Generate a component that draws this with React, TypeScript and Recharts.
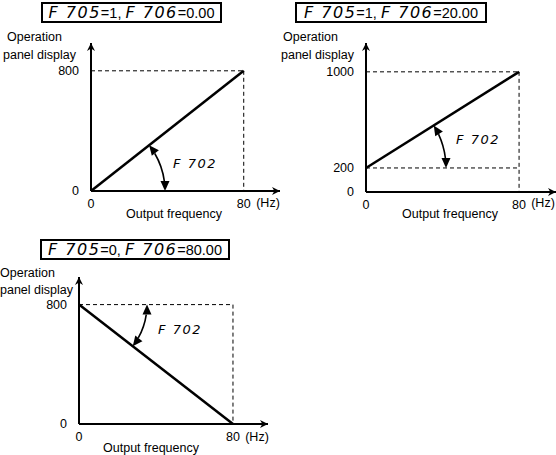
import React from 'react';
import { LineChart, Line, XAxis, YAxis, ReferenceLine, ReferenceDot } from 'recharts';

// Output frequency (Hz) at the two ends of each characteristic line
const freqHz = [0, 80];
const freqTicks = [0, 80];

// Operation panel display values at those frequencies
const displayA = [0, 800];
const displayB = [200, 1000];
const displayC = [800, 0];

const displayTicksA = [0, 800];
const displayTicksB = [0, 200, 1000];
const displayTicksC = [0, 800];

// Panel titles: [param, value, param, value]
const titleA = ['F 705', '=1,\u00a0', 'F 706', '=0.00'];
const titleB = ['F 705', '=1,\u00a0', 'F 706', '=20.00'];
const titleC = ['F 705', '=0,\u00a0', 'F 706', '=80.00'];

const angleLabel = 'F 702';
const yLabel = ['Operation', 'panel display'];
const xLabel = 'Output frequency';
const unitLabel = '(Hz)';

const FONT = '"Liberation Sans", Arial, sans-serif';
const SEG = '"DejaVu Sans", sans-serif';

const ArcMark = ({ cx, cy, r, a1, label, ldx, ldy }: any) => {
  if (cx == null || cy == null) return null;
  const L = 10;
  const W = 9;
  const cut = L / r;
  const dir = a1 > 0 ? 1 : -1;
  const s0 = dir * cut;
  const s1 = a1 - dir * cut;
  const pt = (a: number) => [cx + r * Math.cos(a), cy - r * Math.sin(a)];
  const [x0, y0] = pt(s0);
  const [x1, y1] = pt(s1);
  const sweep = dir > 0 ? 0 : 1;
  // arrowhead at angle a, pointing away from the arc
  const head = (a: number, sign: number) => {
    const [tx, ty] = pt(a);
    const dx = -Math.sin(a) * sign;
    const dy = -Math.cos(a) * sign;
    const bx = tx - dx * L;
    const by = ty - dy * L;
    const nx = -dy;
    const ny = dx;
    return `M${tx},${ty} L${bx + nx * W / 2},${by + ny * W / 2} L${bx - nx * W / 2},${by - ny * W / 2} Z`;
  };
  return (
    <g>
      <path d={`M${x0},${y0} A${r},${r} 0 0 ${sweep} ${x1},${y1}`} fill="none" stroke="#000" strokeWidth={1.6} />
      <path d={head(0, -dir)} fill="#000" />
      <path d={head(a1, dir)} fill="#000" />
      <text x={cx + ldx} y={cy + ldy} textAnchor="middle" dominantBaseline="central" fontFamily={SEG}
        fontStyle="italic" fontWeight={200} fontSize={13} letterSpacing={1.5} fill="#000">{label}</text>
    </g>
  );
};

const Title = ({ parts, left, top, width }: any) => (
  <div style={{
    position: 'absolute', left, top, width, height: 21, boxSizing: 'border-box', border: '2px solid #000',
    display: 'flex', alignItems: 'center', justifyContent: 'center', whiteSpace: 'pre', lineHeight: '16px',
  }}>
    <span style={{ fontFamily: SEG, fontStyle: 'italic', fontWeight: 200, fontSize: 16, letterSpacing: 1.5 }}>{parts[0]}</span>
    <span style={{ fontFamily: FONT, fontSize: 14.5 }}>{parts[1]}</span>
    <span style={{ fontFamily: SEG, fontStyle: 'italic', fontWeight: 200, fontSize: 16, letterSpacing: 1.5 }}>{parts[2]}</span>
    <span style={{ fontFamily: FONT, fontSize: 14.5 }}>{parts[3]}</span>
  </div>
);

const Txt = ({ x, y, children, align = 'left' }: any) => (
  <div style={{
    position: 'absolute', top: y - 8, height: 16, lineHeight: '16px', fontFamily: FONT, fontSize: 12.5,
    whiteSpace: 'nowrap', ...(align === 'center' ? { left: x - 100, width: 200, textAlign: 'center' } : { left: x }),
  }}>{children}</div>
);

const Panel = ({ id, box, plot, xMax, yMax, values, ticks, guides, arc, title, labels }: any) => {
  const yAxisW = 40;
  const xAxisH = 20;
  const margin = {
    top: plot.t - box.y,
    left: plot.l - box.x - yAxisW,
    right: box.x + box.w - plot.r,
    bottom: box.y + box.h - plot.b - xAxisH,
  };
  const rows = freqHz.map((f, i) => ({ f, v: values[i] }));
  const pxX = (plot.r - plot.l) / xMax;
  const pxY = (plot.b - plot.t) / yMax;
  const ang = Math.atan2((values[1] - values[0]) * pxY, (freqHz[1] - freqHz[0]) * pxX);
  const tick = { fontSize: 12.5, fontFamily: FONT, fill: '#000' };
  return (
    <>
      <div style={{ position: 'absolute', left: box.x, top: box.y }}>
        <LineChart width={box.w} height={box.h} data={rows} margin={margin} style={{ overflow: 'visible' }}>
          <defs>
            <marker id={`arr-${id}`} viewBox="0 0 10 10" refX={10} refY={5} markerWidth={8} markerHeight={8}
              markerUnits="userSpaceOnUse" orient="auto-start-reverse">
              <path d="M0,0 L10,5 L0,10 L3,5 Z" fill="#000" />
            </marker>
          </defs>
          <XAxis dataKey="f" type="number" domain={[0, xMax]} ticks={freqTicks} tickLine={false} height={xAxisH}
            axisLine={{ stroke: '#000', strokeWidth: 2, markerEnd: `url(#arr-${id})` }} tick={tick} tickMargin={2} />
          <YAxis type="number" domain={[0, yMax]} ticks={ticks} tickLine={false} width={yAxisW}
            axisLine={{ stroke: '#000', strokeWidth: 2, markerStart: `url(#arr-${id})` }} tick={tick} tickMargin={6} />
          {guides.map((g: any, i: number) => (
            <ReferenceLine key={i} segment={g} stroke="#000" strokeWidth={1} strokeDasharray="4 3" />
          ))}
          <Line dataKey="v" type="linear" stroke="#000" strokeWidth={2.5} dot={false} isAnimationActive={false} />
          <ReferenceDot x={freqHz[0]} y={values[0]} r={0}
            shape={(p: any) => <ArcMark cx={p.cx} cy={p.cy} r={arc.r} a1={ang} label={angleLabel} ldx={arc.dx} ldy={arc.dy} />} />
        </LineChart>
      </div>
      <Title parts={title.parts} left={title.x} top={title.y} width={title.w} />
      <Txt x={labels.op.x} y={labels.op.y}>{yLabel[0]}</Txt>
      <Txt x={labels.pd.x} y={labels.pd.y}>{yLabel[1]}</Txt>
      <Txt x={labels.hz.x} y={labels.hz.y} align="center">{unitLabel}</Txt>
      <Txt x={labels.of.x} y={labels.of.y} align="center">{xLabel}</Txt>
    </>
  );
};

export default function App() {
  return (
    <div style={{ position: 'absolute', left: 0, top: 0, width: 556, height: 455, overflow: 'hidden', background: '#fff' }}>
      <Panel id="a" box={{ x: 0, y: 0, w: 290, h: 225 }} plot={{ l: 91, t: 43, r: 280, b: 191 }} xMax={99} yMax={985}
        values={displayA} ticks={displayTicksA}
        guides={[[{ x: 0, y: 800 }, { x: 80, y: 800 }], [{ x: 80, y: 800 }, { x: 80, y: 0 }]]}
        arc={{ r: 74, dx: 104, dy: -28 }}
        title={{ parts: titleA, x: 41, y: 2, w: 181 }}
        labels={{ op: { x: 7, y: 37 }, pd: { x: 3, y: 55 }, hz: { x: 268, y: 203 }, of: { x: 174, y: 214 } }} />
      <Panel id="b" box={{ x: 280, y: 0, w: 280, h: 225 }} plot={{ l: 366, t: 43, r: 556, b: 192 }} xMax={99.3} yMax={1240}
        values={displayB} ticks={displayTicksB}
        guides={[[{ x: 0, y: 1000 }, { x: 80, y: 1000 }], [{ x: 0, y: 200 }, { x: 80, y: 200 }], [{ x: 80, y: 1000 }, { x: 80, y: 0 }]]}
        arc={{ r: 80, dx: 112, dy: -28 }}
        title={{ parts: titleB, x: 295, y: 2, w: 192 }}
        labels={{ op: { x: 283, y: 37 }, pd: { x: 281, y: 55 }, hz: { x: 543, y: 203 }, of: { x: 450, y: 214 } }} />
      <Panel id="c" box={{ x: 0, y: 230, w: 290, h: 225 }} plot={{ l: 79, t: 277, r: 268, b: 424 }} xMax={98.2} yMax={985}
        values={displayC} ticks={displayTicksC}
        guides={[[{ x: 0, y: 800 }, { x: 80, y: 800 }], [{ x: 80, y: 800 }, { x: 80, y: 0 }]]}
        arc={{ r: 68, dx: 101, dy: 25 }}
        title={{ parts: titleC, x: 40, y: 239, w: 190 }}
        labels={{ op: { x: 0, y: 273 }, pd: { x: 0, y: 290 }, hz: { x: 257, y: 437 }, of: { x: 151, y: 448 } }} />
    </div>
  );
}
